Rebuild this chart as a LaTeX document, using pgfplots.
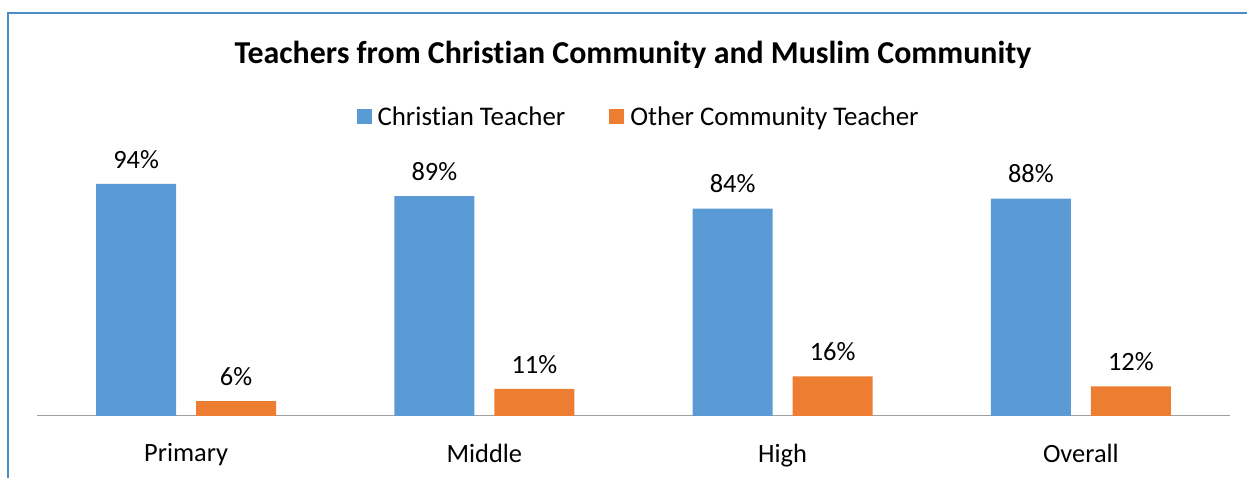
\documentclass[border=0pt]{standalone}
\usepackage{pgfplots}
\pgfplotsset{compat=1.18}
\usepackage{fontspec}
\setmainfont{Carlito}[Ligatures=NoCommon]
\definecolor{cblue}{HTML}{5B9BD5}
\definecolor{corange}{HTML}{ED7D31}
\definecolor{frame}{RGB}{75,140,200}
\begin{document}
\begin{tikzpicture}[x=1bp,y=1bp]
\path[use as bounding box] (0,0) rectangle (1247,478);
\draw[frame,line width=1.2bp] (8,0) -- (8,465) -- (1247,465);
\node[font=\fontsize{32}{36}\selectfont\bfseries] at (633,423) {Teachers from Christian Community and Muslim Community};
\begin{axis}[
  at={(37bp,62bp)}, anchor=south west,
  scale only axis, width=1193bp, height=247bp,
  xmin=-0.5, xmax=3.5, ymin=0, ymax=100,
  ybar=20bp, bar width=80bp,
  axis x line*=bottom, axis y line=none,
  x axis line style={draw=gray!75, line width=1bp, -},
  xtick=data, xticklabels={Primary,Middle,High,Overall},
  xtick style={draw=none},
  /pgf/number format/assume math mode=true,
  ticklabel style={font=\fontsize{26.5}{30}\selectfont},
  xticklabel style={yshift=-20bp},
  nodes near coords={\pgfmathprintnumber{\pgfplotspointmeta}\%},
  every node near coord/.append style={font=\fontsize{26.5}{30}\selectfont, black, yshift=12bp},
  clip=false,
  legend style={at={(0.5034,1.2126)}, anchor=center, draw=none, legend columns=2,
    inner sep=0pt, nodes={inner sep=0pt},
    font=\fontsize{27}{30}\selectfont,
    /tikz/every odd column/.append style={column sep=6bp},
    /tikz/every even column/.append style={column sep=44bp}},
  legend image code/.code={\fill[#1] (0bp,-7.5bp) rectangle (15bp,7.5bp);},
  legend cell align=left,
]
\addplot[fill=cblue, draw=none] coordinates {(0,94) (1,89) (2,84) (3,88)};
\addplot[fill=corange, draw=none] coordinates {(0,6) (1,11) (2,16) (3,12)};
\legend{Christian Teacher, Other Community Teacher}
\end{axis}
\end{tikzpicture}
\end{document}
